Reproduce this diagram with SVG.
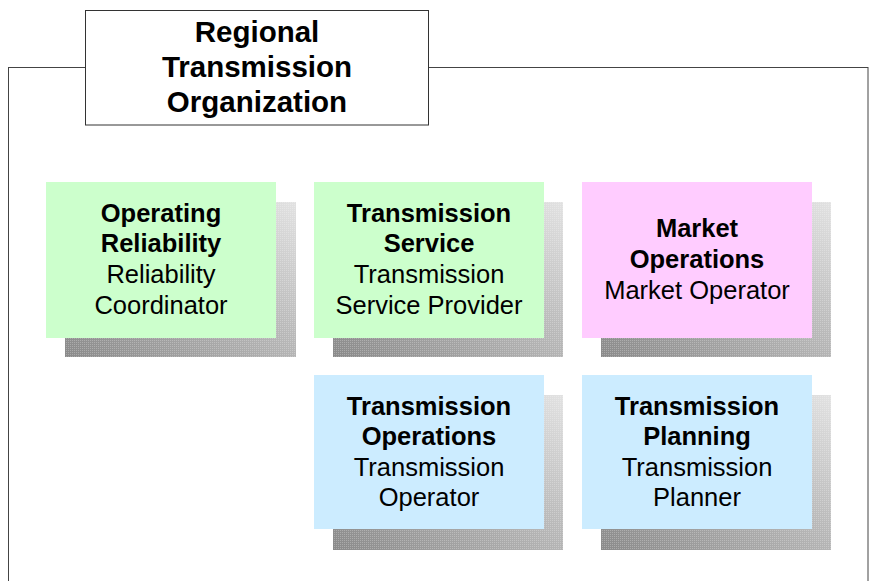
<svg xmlns="http://www.w3.org/2000/svg" width="872" height="581" viewBox="0 0 872 581">
<defs>
<linearGradient id="shd" x1="0" y1="1" x2="1" y2="0">
<stop offset="0" stop-color="#8a8a8a"/>
<stop offset="0.5" stop-color="#b4b4b4"/>
<stop offset="1" stop-color="#e2e2e2"/>
</linearGradient>
<pattern id="dots" width="2" height="2" patternUnits="userSpaceOnUse">
<rect x="0" y="0" width="1" height="1" fill="#ffffff" fill-opacity="0.25"/>
</pattern>
</defs>
<style>
.frame{fill:none;stroke:#444;stroke-width:1}
.title{fill:#fff;stroke:#333;stroke-width:1}
.shadow{fill:url(#shd)}
.dots{fill:url(#dots)}
.green{fill:#ccffcc}
.pink{fill:#ffccff}
.blue{fill:#ccecff}
text{font-family:"Liberation Sans",Arial,sans-serif;fill:#000;text-anchor:middle}
.t{font-size:29.5px;font-weight:bold}
.b{font-size:25.5px;font-weight:bold}
.r{font-size:25.5px}
</style>
<rect class="frame" x="8.5" y="67.5" width="859.5" height="600"/>
<g id="rto">
<rect class="title" x="85.5" y="10.5" width="343" height="114.5"/>
<text class="t" x="257" y="41.5">Regional</text>
<text class="t" x="257" y="77">Transmission</text>
<text class="t" x="257" y="111.5">Organization</text>
</g>
<g id="connectors"></g>
<g id="operating-reliability">
<rect class="shadow" x="65" y="202" width="231" height="155"/>
<rect class="dots" x="65" y="202" width="231" height="155"/>
<rect class="green" x="46" y="182" width="230" height="156"/>
<text class="b" x="161" y="222">Operating</text>
<text class="b" x="161" y="252">Reliability</text>
<text class="r" x="161" y="283">Reliability</text>
<text class="r" x="161" y="314">Coordinator</text>
</g>
<g id="transmission-service">
<rect class="shadow" x="333" y="202" width="230" height="155"/>
<rect class="dots" x="333" y="202" width="230" height="155"/>
<rect class="green" x="314" y="182" width="230" height="156"/>
<text class="b" x="429" y="222">Transmission</text>
<text class="b" x="429" y="252">Service</text>
<text class="r" x="429" y="283">Transmission</text>
<text class="r" x="429" y="314">Service Provider</text>
</g>
<g id="market-operations">
<rect class="shadow" x="601" y="202" width="230" height="155"/>
<rect class="dots" x="601" y="202" width="230" height="155"/>
<rect class="pink" x="582" y="182" width="230" height="156"/>
<text class="b" x="697" y="237">Market</text>
<text class="b" x="697" y="268">Operations</text>
<text class="r" x="697" y="299">Market Operator</text>
</g>
<g id="transmission-operations">
<rect class="shadow" x="333" y="395" width="230" height="155"/>
<rect class="dots" x="333" y="395" width="230" height="155"/>
<rect class="blue" x="314" y="375" width="230" height="154"/>
<text class="b" x="429" y="415">Transmission</text>
<text class="b" x="429" y="445">Operations</text>
<text class="r" x="429" y="476">Transmission</text>
<text class="r" x="429" y="506">Operator</text>
</g>
<g id="transmission-planning">
<rect class="shadow" x="601" y="395" width="230" height="155"/>
<rect class="dots" x="601" y="395" width="230" height="155"/>
<rect class="blue" x="582" y="375" width="230" height="154"/>
<text class="b" x="697" y="415">Transmission</text>
<text class="b" x="697" y="445">Planning</text>
<text class="r" x="697" y="476">Transmission</text>
<text class="r" x="697" y="506">Planner</text>
</g>
</svg>
